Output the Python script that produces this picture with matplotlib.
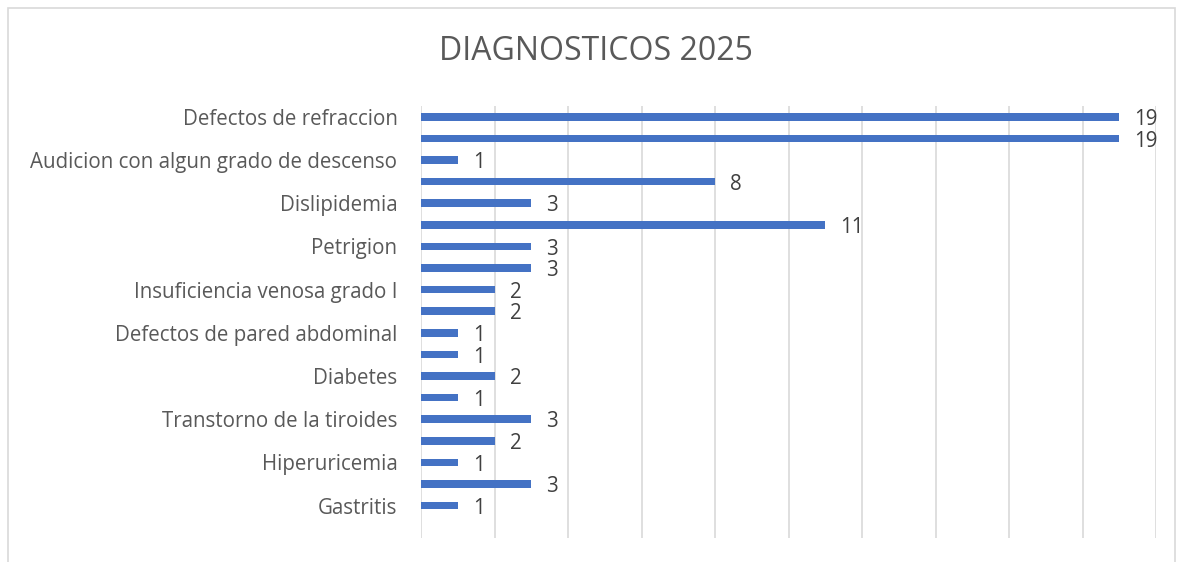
import matplotlib
matplotlib.use("Agg")
import matplotlib.pyplot as plt
from matplotlib.patches import Rectangle

categories = [
    "Defectos de refraccion", "",
    "Audicion con algun grado de descenso", "",
    "Dislipidemia", "",
    "Petrigion", "",
    "Insuficiencia venosa grado I", "",
    "Defectos de pared abdominal", "",
    "Diabetes", "",
    "Transtorno de la tiroides", "",
    "Hiperuricemia", "",
    "Gastritis", "",
]
values = [19, 19, 1, 8, 3, 11, 3, 3, 2, 2, 1, 1, 2, 1, 3, 2, 1, 3, 1, None]
title = "DIAGNOSTICOS 2025"

W, H = 1177, 562
fig = plt.figure(figsize=(W / 100, H / 100), dpi=100)
plt.rcParams['font.family'] = ['Open Sans', 'DejaVu Sans']
txt = "#595959"
lab = "#404040"

# chart border
fig.patches.append(Rectangle((7.5 / W, -0.1), (1175 - 7.5) / W, 1.1 - 8 / H,
                             transform=fig.transFigure, fill=False,
                             edgecolor="#d9d9d9", linewidth=1.2))

ax = fig.add_axes([421 / W, 1 - 538 / H, (1156 - 421) / W, (538 - 106) / H])
n = len(categories)
ys = list(range(n))
vals = [v if v is not None else 0 for v in values]
ax.barh(ys, vals, height=0.36, color="#4472C4", zorder=3)
ax.set_ylim(n - 0.5, -0.5)
ax.set_xlim(0, 20)
ax.set_xticks(range(0, 21, 2))
ax.grid(axis="x", color="#d9d9d9", linewidth=1.2, zorder=0)
ax.tick_params(axis="x", length=0, labelbottom=False)
ax.tick_params(axis="y", length=0, pad=17)
ax.set_yticks(ys)
ax.set_yticklabels(categories, fontsize=14.8, color=txt)
for s in ax.spines.values():
    s.set_visible(False)

for y, v in zip(ys, values):
    if v is None:
        continue
    ax.annotate(str(v), (v, y), xytext=(11, -2), textcoords="offset points",
                ha="left", va="center", fontsize=14.8, color=lab)

fig.text(596 / W, 1 - 51 / H, title, ha="center", va="center",
         fontsize=23, color=txt)

fig.savefig("out.png", dpi=100)
